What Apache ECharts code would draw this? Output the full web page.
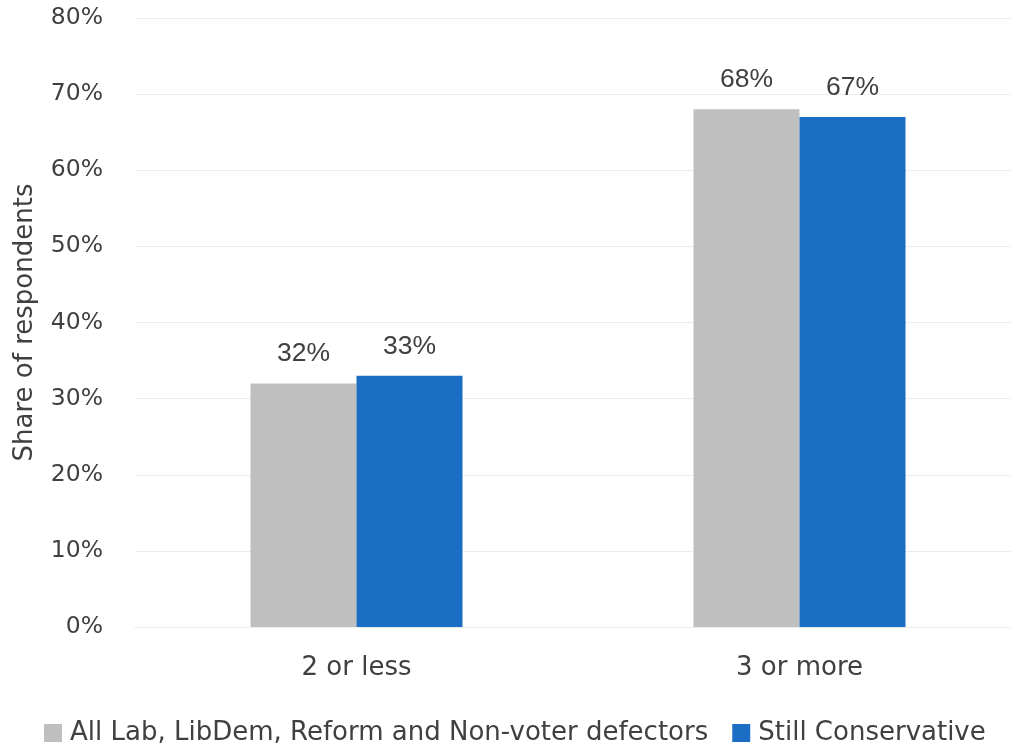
<!DOCTYPE html>
<html>
<head>
<meta charset="utf-8">
<script src="https://cdn.jsdelivr.net/npm/echarts@6/dist/echarts.min.js"></script>
<style>
  html, body { margin: 0; padding: 0; background: #ffffff; overflow: hidden; }
  /* the plot area runs a little past the right edge of the window */
  #chart { width: 1021px; height: 744px; }
</style>
</head>
<body>
<div id="chart"></div>
<script>
// Respondent groups on the category axis
const categories = ['2 or less', '3 or more'];
const seriesNames = ['All Lab, LibDem, Reform and Non-voter defectors', 'Still Conservative'];
const defectorValues = [32, 68];
const conservativeValues = [33, 67];
const yTicks = { min: 0, max: 80, step: 10 };

const textColor = '#404040';
const uiFont = 'DejaVu Sans';
const labelFont = 'Liberation Sans';

const chart = echarts.init(document.getElementById('chart'), null, { renderer: 'canvas' });

const barLabel = {
  show: true,
  position: 'top',
  distance: 16,
  formatter: '{c}%',
  color: textColor,
  fontFamily: labelFont,
  fontSize: 26.5
};

chart.setOption({
  animation: false,
  backgroundColor: '#ffffff',
  grid: { left: 135, top: 18, right: 0, height: 609, containLabel: false },
  legend: {
    data: seriesNames,
    left: 39,
    top: 715,
    icon: 'rect',
    itemWidth: 18,
    itemHeight: 18,
    itemGap: 24,
    textStyle: { color: textColor, fontFamily: uiFont, fontSize: 26, padding: [0, 0, 0, 3] }
  },
  xAxis: {
    type: 'category',
    data: categories,
    axisLine: { show: true, lineStyle: { color: '#ececec', width: 1 } },
    axisTick: { show: false },
    axisLabel: { color: textColor, fontFamily: uiFont, fontSize: 26, margin: 28 }
  },
  yAxis: {
    type: 'value',
    min: yTicks.min,
    max: yTicks.max,
    interval: yTicks.step,
    name: 'Share of respondents',
    nameLocation: 'middle',
    nameRotate: 90,
    nameGap: 97,
    nameTextStyle: { color: textColor, fontFamily: uiFont, fontSize: 26 },
    axisLine: { show: false },
    axisTick: { show: false },
    axisLabel: { formatter: '{value}%', color: textColor, fontFamily: uiFont, fontSize: 23.5, margin: 32 },
    splitLine: { show: true, lineStyle: { color: '#ececec', width: 1 } }
  },
  series: [
    {
      name: seriesNames[0],
      type: 'bar',
      data: defectorValues,
      barWidth: 106,
      barGap: '0%',
      itemStyle: { color: '#bfbfbf' },
      label: barLabel
    },
    {
      name: seriesNames[1],
      type: 'bar',
      data: conservativeValues,
      barWidth: 106,
      barGap: '0%',
      itemStyle: { color: '#1c6ec4' },
      label: barLabel
    }
  ]
});
</script>
</body>
</html>
